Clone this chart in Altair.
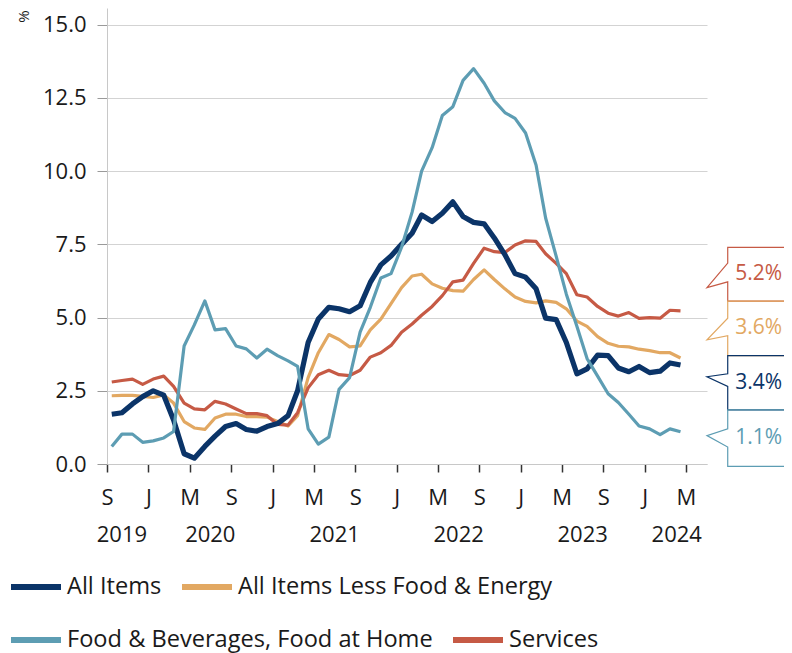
import altair as alt
import pandas as pd

# ---------------- data ----------------
series_names = ["All Items", "All Items Less Food & Energy",
                "Food & Beverages, Food at Home", "Services"]
series_colors = ["#0b3468", "#e2a862", "#5d9db3", "#c65a45"]

# monthly observations Sep 2019 .. Apr 2024 (plotted mid-month)
month_starts = pd.date_range("2019-09-01", "2024-04-01", freq="MS")
dates = [(d + pd.Timedelta(days=14)).strftime("%Y-%m-%d") for d in month_starts]

all_items = [1.7, 1.75, 2.05, 2.3,
             2.5, 2.35, 1.5, 0.35, 0.2, 0.6, 0.95, 1.28, 1.38, 1.18, 1.12, 1.28,
             1.38, 1.65, 2.5, 4.15, 4.95, 5.35, 5.3, 5.2, 5.4, 6.2, 6.8, 7.1,
             7.5, 7.88, 8.5, 8.28, 8.56, 8.95, 8.45, 8.25, 8.2, 7.72, 7.15, 6.5,
             6.38, 5.98, 4.98, 4.93, 4.15, 3.08, 3.25, 3.72, 3.7, 3.28, 3.15, 3.33,
             3.12, 3.17, 3.45, 3.38]
core = [2.33, 2.34, 2.34, 2.31,
        2.27, 2.36, 2.08, 1.45, 1.23, 1.18, 1.57, 1.7, 1.7, 1.62, 1.62, 1.6,
        1.45, 1.3, 1.65, 2.95, 3.8, 4.42, 4.25, 4.0, 4.03, 4.58, 4.95, 5.48,
        6.02, 6.42, 6.48, 6.15, 6.0, 5.92, 5.9, 6.3, 6.63, 6.3, 5.98, 5.7,
        5.55, 5.5, 5.57, 5.52, 5.3, 4.88, 4.7, 4.35, 4.12, 4.02, 4.0, 3.92,
        3.87, 3.8, 3.8, 3.62]
food_home = [0.6, 1.02, 1.02, 0.74,
             0.79, 0.89, 1.11, 4.03, 4.75, 5.57, 4.58, 4.62, 4.03, 3.93, 3.62, 3.92,
             3.7, 3.52, 3.33, 1.2, 0.68, 0.92, 2.55, 2.95, 4.5, 5.35, 6.35, 6.5,
             7.4, 8.6, 10.0, 10.8, 11.9, 12.2, 13.1, 13.5, 13.0, 12.4, 12.0, 11.8,
             11.3, 10.2, 8.4, 7.1, 5.8, 4.7, 3.6, 3.0, 2.4, 2.1, 1.7, 1.3,
             1.2, 1.0, 1.2, 1.1]
services = [2.8, 2.85, 2.9, 2.72,
            2.9, 3.0, 2.65, 2.08, 1.88, 1.85, 2.14, 2.05, 1.88, 1.72, 1.72, 1.65,
            1.35, 1.33, 1.75, 2.6, 3.05, 3.2, 3.05, 3.02, 3.2, 3.65, 3.8, 4.05,
            4.5, 4.78, 5.08, 5.38, 5.75, 6.22, 6.28, 6.85, 7.37, 7.25, 7.22, 7.48,
            7.62, 7.6, 7.18, 6.85, 6.5, 5.78, 5.7, 5.38, 5.15, 5.05, 5.17, 4.97,
            5.0, 4.98, 5.25, 5.23]

y_ticks = [0, 2.5, 5, 7.5, 10, 12.5, 15]
x_tick_dates = ["2019-09-01", "2020-01-01", "2020-05-01", "2020-09-01", "2021-01-01",
                "2021-05-01", "2021-09-01", "2022-01-01", "2022-05-01", "2022-09-01",
                "2023-01-01", "2023-05-01", "2023-09-01", "2024-01-01", "2024-05-01"]
x_domain_dates = ["2019-09-01", "2024-07-02"]

year_labels = ["2019", "2020", "2021", "2022", "2023", "2024"]
year_label_dates = ["2019-10-15", "2020-07-01", "2021-07-02", "2022-07-02",
                    "2023-07-02", "2024-04-04"]

# end-value call-outs (boxes stacked at the right)
callout_labels = ["5.2%", "3.6%", "3.4%", "1.1%"]
callout_colors = ["#c65a45", "#e2a862", "#0b3468", "#5d9db3"]
box_top = [7.40, 5.56, 3.70, 1.85]
box_bottom = [5.56, 3.70, 1.85, -0.08]
tail_top = [6.86, 4.98, 3.08, 1.20]
tail_tip = [6.02, 4.24, 2.98, 0.97]
tail_bottom = [6.22, 4.38, 2.65, 0.58]
tip_date, attach_date, right_date, text_date = "2024-07-02", "2024-09-01", "2025-04-01", "2024-12-01"


def ms(d):
    return int(pd.Timestamp(d, tz="UTC").value // 10**6)


# ---------------- build ----------------
rows = []
for name, vals in zip(series_names, [all_items, core, food_home, services]):
    for d, v in zip(dates, vals):
        rows.append({"series": name, "date": d, "value": v})
df = pd.DataFrame(rows)

FONT = "Open Sans"
TXT = "#1a1a1a"

x_scale = alt.Scale(type="utc", nice=False, domain=[ms(d) for d in x_domain_dates])
y_scale = alt.Scale(domain=[0, 15.57], nice=False, zero=False)

x_axis = alt.Axis(values=[ms(d) for d in x_tick_dates],
                  labelExpr="substring(utcFormat(datum.value, '%b'), 0, 1)",
                  grid=False, tickSize=8, tickColor="#333333", tickWidth=1.5,
                  domainColor="#c8c8c8", labelPadding=15, labelFontSize=22,
                  labelFont=FONT, labelColor=TXT, title=None, labelAngle=0,
                  labelFlush=False, labelOverlap=False)
y_axis = alt.Axis(values=y_ticks, format=".1f", tickSize=10, tickColor="#9a9a9a",
                  domainColor="#c8c8c8", gridColor="#d3d3d3", labelPadding=11,
                  labelFontSize=22, labelFont=FONT, labelColor=TXT,
                  title="%", titleFontSize=15, titleFontWeight="normal", titleFont=FONT,
                  titleColor=TXT, titleX=-84, titleY=8, titleAlign="center",
                  titleBaseline="middle")


def make_legend(y):
    return alt.Legend(title=None, orient="none", legendX=-99, legendY=y,
                      direction="horizontal", columnPadding=8,
                      symbolType="stroke", symbolSize=2500, symbolStrokeWidth=6,
                      labelFont=FONT, labelFontSize=23.6, labelColor=TXT, labelLimit=0,
                      labelOffset=3, padding=0)


# two legend rows: first two series on the colour channel, last two on stroke
color_enc = alt.Color("series:N",
                      scale=alt.Scale(domain=series_names[:2], range=series_colors[:2]),
                      legend=make_legend(551))
stroke_enc = alt.Stroke("series:N",
                        scale=alt.Scale(domain=series_names[2:], range=series_colors[2:]),
                        legend=make_legend(604))


def X(field):
    return alt.X(field, type="temporal", scale=x_scale, axis=x_axis)


def Y(field):
    return alt.Y(field, type="quantitative", scale=y_scale, axis=y_axis)


layers = []
draw_order = [("All Items Less Food & Energy", 3.2), ("Services", 3.2),
              ("All Items", 5.2), ("Food & Beverages, Food at Home", 3.2)]
for name, w in draw_order:
    enc = {"color": color_enc} if name in series_names[:2] else {"stroke": stroke_enc}
    layers.append(
        alt.Chart(df).transform_filter(alt.datum.series == name)
        .mark_line(strokeWidth=w, strokeJoin="round")
        .encode(x=X("date"), y=Y("value"), **enc)
    )

# year labels under the month axis
years_df = pd.DataFrame({"date": year_label_dates, "year": year_labels})
layers.append(
    alt.Chart(years_df).mark_text(font=FONT, fontSize=22, color=TXT, baseline="middle")
    .encode(x=X("date"), y=alt.value(527), text="year:N")
)

# call-out boxes
for i, lab in enumerate(callout_labels):
    pts = pd.DataFrame({
        "date": [right_date, attach_date, attach_date, tip_date, attach_date, attach_date, right_date],
        "value": [box_top[i], box_top[i], tail_top[i], tail_tip[i], tail_bottom[i], box_bottom[i], box_bottom[i]],
        "k": list(range(7)),
    })
    layers.append(
        alt.Chart(pts).mark_line(strokeWidth=1.2, color=callout_colors[i])
        .encode(x=X("date"), y=Y("value"), order="k:Q")
    )
lab_df = pd.DataFrame({"date": [text_date] * 4, "label": callout_labels,
                       "value": [(a + b) / 2 for a, b in zip(box_top, box_bottom)],
                       "c": callout_colors})
layers.append(
    alt.Chart(lab_df).mark_text(font=FONT, fontSize=21, baseline="middle", align="center")
    .encode(x=X("date"), y=Y("value"),
            text="label:N", color=alt.Color("c:N", scale=None))
)

chart = alt.layer(*layers).properties(
    width=600, height=456,
    autosize=alt.AutoSizeParams(type="none"),
    padding={"left": 99, "top": 0, "right": 77, "bottom": 189},
).configure_view(stroke=None)

chart.save("out.html", embed_options={"renderer": "svg", "actions": False})
